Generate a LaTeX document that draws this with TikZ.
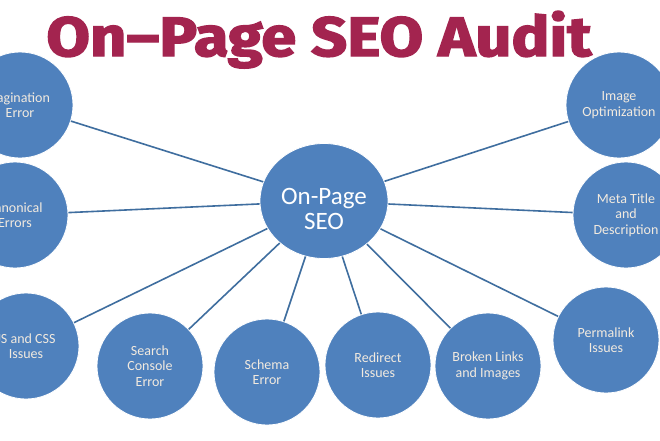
\documentclass[tikz,border=0pt]{standalone}
\usepackage{fontspec}
\setmainfont{Carlito}
\newfontfamily\titlefont{Fira Sans}[UprightFont=* Bold, FakeBold=2.5]
\usetikzlibrary{shapes.geometric}
\definecolor{circfill}{HTML}{4F81BD}
\definecolor{linecol}{HTML}{3F6E9F}
\definecolor{txtcol}{HTML}{F2EADF}
\definecolor{titlecol}{HTML}{A3244F}
\tikzset{
  topic/.style={circle, fill=circfill, draw=white, line width=0.8pt, minimum size=106pt, inner sep=0pt,
    align=center, text=txtcol, font=\fontsize{14}{15.5}\selectfont},
  hub/.style={ellipse, fill=circfill, draw=white, line width=0.8pt, minimum width=128pt, minimum height=115pt,
    inner sep=0pt},
  hubtext/.style={align=center, text=white, inner sep=0pt, font=\fontsize{25}{25.5}\selectfont},
  spoke/.style={draw=linecol, line width=1.6pt}
}
\begin{document}
\begin{tikzpicture}[x=1pt,y=-1pt]
\useasboundingbox (0,0) rectangle (660,440);
\clip (0,0) rectangle (660,440);
\fill[white] (0,0) rectangle (660,440);
\node[hub] (c) at (324,201) {};
\node[hubtext] (ct) at (324,209) {On-Page\\SEO};
\node[topic] (pag) at (20,105) {Pagination\\Error};
\node[topic] (can) at (15,215) {Canonical\\Errors};
\node[topic] (js) at (26,346) {JS and CSS\\Issues};
\node[topic] (sce) at (150,366) {Search\\Console\\Error};
\node[topic] (sch) at (267,372) {Schema\\Error};
\node[topic] (red) at (378,365) {Redirect\\Issues};
\node[topic] (brk) at (488,366) {Broken Links\\and Images};
\node[topic] (per) at (606,340) {Permalink\\Issues};
\node[topic] (img) at (619,105) {Image\\Optimization};
\node[topic] (met) at (626,215) {Meta Title\\and\\Description};
\foreach \n in {pag,can,js,sce,sch,red,brk,per,img,met}
  \draw[spoke] (c) -- (\n);
\node[text=titlecol, inner sep=0pt, anchor=base] (title) at (319,56)
  {\resizebox{545pt}{45pt}{\titlefont On–Page SEO Audit}};
\end{tikzpicture}
\end{document}
